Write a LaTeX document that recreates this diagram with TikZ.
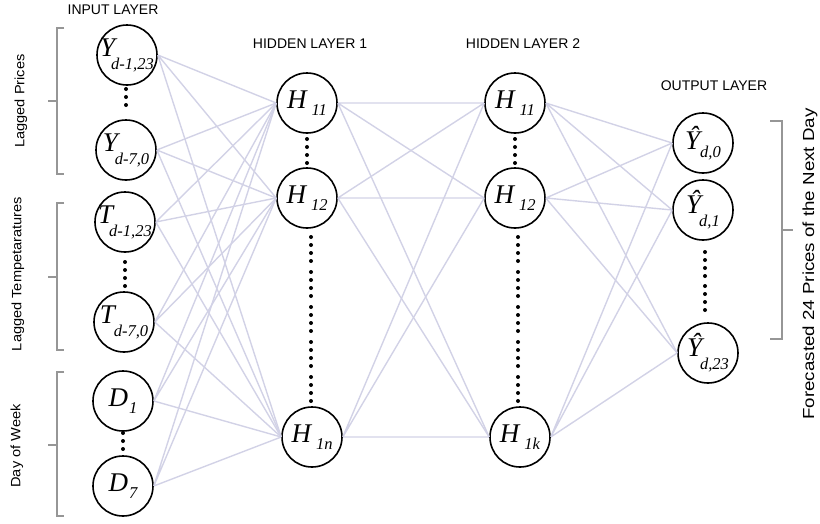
\documentclass[tikz,border=0pt]{standalone}
\usepackage{fontspec}
\setmainfont{Liberation Serif}
\newfontfamily\arialfont{Liberation Sans}
\usepackage{graphicx}

\definecolor{linkcol}{RGB}{210,210,230}
\definecolor{bracecol}{RGB}{150,150,150}
\newcommand{\nlab}[4]{{\fontsize{27}{27}\selectfont\itshape #1}\kern#3\raisebox{-#4}{\fontsize{16.5}{17}\selectfont\itshape #2}}
\tikzset{
  neuron/.style={circle,draw,line width=1.6pt,minimum size=60pt,inner sep=0pt},
  link/.style={draw=linkcol,line width=1.4pt},
  brace/.style={draw=bracecol,line width=1.1pt},
  dotrow/.style={line width=4pt,line cap=round,dash pattern=on 0pt off 8pt},
  header/.style={font=\arialfont\fontsize{14}{16}\selectfont},
  side/.style={font=\arialfont\fontsize{13.5}{15}\selectfont,rotate=90}
}

\begin{document}
\begin{tikzpicture}[x=1pt,y=-1pt]
    \useasboundingbox (0,0) rectangle (820,523);
    \node[header] (inhd) at (113,10) {INPUT LAYER};
    \node[header] (hahd) at (310,44) {HIDDEN LAYER 1};
    \node[header] (hbhd) at (523,44) {HIDDEN LAYER 2};
    \node[header] (outhd) at (714,86) {OUTPUT LAYER};
    % input layer
    \node[neuron,label=center:{\nlab{Y}{d-1,23}{-4pt}{13pt}}] (Ya) at (127,55) {};
    \node[neuron,label=center:{\nlab{Y}{d-7,0}{-3pt}{13pt}}] (Yb) at (126,150) {};
    \node[neuron,label=center:{\nlab{T}{d-1,23}{-4pt}{13pt}}] (Ta) at (125,222) {};
    \node[neuron,label=center:{\nlab{T}{d-7,0}{-1pt}{13pt}}] (Tb) at (124,322) {};
    \node[neuron,label=center:{\nlab{D}{1}{1pt}{7pt}}] (Da) at (123,401) {};
    \node[neuron,label=center:{\nlab{D}{7}{1pt}{7pt}}] (Db) at (123,486) {};
    % hidden layers
    \node[neuron,label=center:{\nlab{H}{11}{5pt}{7pt}}] (Ha) at (307,103) {};
    \node[neuron,label=center:{\nlab{H}{12}{5pt}{7pt}}] (Hb) at (307,198) {};
    \node[neuron,label=center:{\nlab{H}{1n}{5pt}{7pt}}] (Hn) at (312,437) {};
    \node[neuron,label=center:{\nlab{H}{11}{5pt}{7pt}}] (Ka) at (515,103) {};
    \node[neuron,label=center:{\nlab{H}{12}{5pt}{7pt}}] (Kb) at (515,198) {};
    \node[neuron,label=center:{\nlab{H}{1k}{5pt}{7pt}}] (Kk) at (520,437) {};
    % output layer
    \node[neuron,label=center:{\nlab{\^{Y}}{d,0}{0pt}{8pt}}] (Oa) at (703,143) {};
    \node[neuron,label=center:{\nlab{\^{Y}}{d,1}{-2pt}{13pt}}] (Ob) at (703,210) {};
    \node[neuron,label=center:{\nlab{\^{Y}}{d,23}{-2pt}{13pt}}] (Oc) at (708,353) {};

    \draw[link] (Ya.east) -- (Ha.west) (Ya.east) -- (Hb.west) (Ya.east) -- (Hn.west);
    \draw[link] (Yb.east) -- (Ha.west) (Yb.east) -- (Hb.west) (Yb.east) -- (Hn.west);
    \draw[link] (Ta.east) -- (Ha.west) (Ta.east) -- (Hb.west) (Ta.east) -- (Hn.west);
    \draw[link] (Tb.east) -- (Ha.west) (Tb.east) -- (Hb.west) (Tb.east) -- (Hn.west);
    \draw[link] (Da.east) -- (Ha.west) (Da.east) -- (Hb.west) (Da.east) -- (Hn.west);
    \draw[link] (Db.east) -- (Ha.west) (Db.east) -- (Hb.west) (Db.east) -- (Hn.west);
    \draw[link] (Ha.east) -- (Ka.west) (Ha.east) -- (Kb.west) (Ha.east) -- (Kk.west);
    \draw[link] (Hb.east) -- (Ka.west) (Hb.east) -- (Kb.west) (Hb.east) -- (Kk.west);
    \draw[link] (Hn.east) -- (Ka.west) (Hn.east) -- (Kb.west) (Hn.east) -- (Kk.west);
    \draw[link] (Ka.east) -- (Oa.west) (Ka.east) -- (Ob.west) (Ka.east) -- (Oc.west);
    \draw[link] (Kb.east) -- (Oa.west) (Kb.east) -- (Ob.west) (Kb.east) -- (Oc.west);
    \draw[link] (Kk.east) -- (Oa.west) (Kk.east) -- (Ob.west) (Kk.east) -- (Oc.west);

    \draw[dotrow] (126,89) -- ++(0,22.5) (125,262) -- ++(0,24.5) (123,433) -- ++(0,22.5);
    \draw[dotrow] (307,139) -- ++(0,24.5) (515,139) -- ++(0,24.5);
    \draw[dotrow] (311,237) -- ++(0,24.5) (311,272) -- ++(0,24.5) (311,307) -- ++(0,24.5)
        (311,342) -- ++(0,24.5) (311,377) -- ++(0,24.5);
    \draw[dotrow] (518,237) -- ++(0,24.5) (518,272) -- ++(0,24.5) (518,307) -- ++(0,24.5)
        (518,342) -- ++(0,24.5) (518,377) -- ++(0,24.5);
    \draw[dotrow] (705,252) -- ++(0,25) (705,286) -- ++(0,25);

    \draw[brace] (64,28) -- (57,28) -- (57,174) -- (64,174) (57,101) -- (48,101);
    \draw[brace] (64,203) -- (57,203) -- (57,350) -- (64,350) (57,277) -- (48,277);
    \draw[brace] (64,372) -- (57,372) -- (57,516) -- (64,516) (57,445) -- (48,445);
    \draw[brace] (770,121) -- (782,121) -- (782,339) -- (770,339) (782,230) -- (793,230);
    \node[side] (lprice) at (21,101) {\scalebox{1.08}[1]{Lagged Prices}};
    \node[side] (ltemp) at (18,274) {\scalebox{1.08}[1]{Lagged Tempetaratures}};
    \node[side] (dweek) at (17,446) {\scalebox{1.08}[1]{Day of Week}};
    \node[side,font=\arialfont\fontsize{16}{18}\selectfont] (fcast) at (810,264)
        {\scalebox{1.17}[1]{Forecasted 24 Prices of the Next Day}};
\end{tikzpicture}
\end{document}
